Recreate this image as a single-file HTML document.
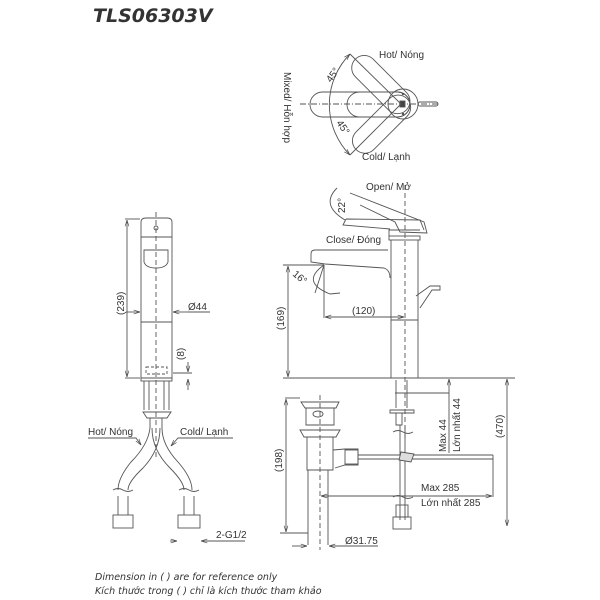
<!DOCTYPE html>
<html><head><meta charset="utf-8"><style>
body{margin:0;background:#fff}
svg{display:block}
text{font-family:"Liberation Sans","DejaVu Sans",sans-serif;fill:#333}
</style></head><body>
<svg width="600" height="600" viewBox="0 0 600 600" xmlns="http://www.w3.org/2000/svg">
<defs>
<marker id="a" viewBox="0 0 10 10" refX="10" refY="5" markerWidth="7" markerHeight="7" orient="auto-start-reverse"><path d="M0,2 L10,5 L0,8" fill="none" stroke="#444" stroke-width="1"/></marker>
</defs>
<text x="93" y="22" font-size="19" font-weight="bold" font-style="italic" style="font-family:'DejaVu Sans',sans-serif" fill="#222">TLS06303V</text>

<g fill="none" stroke="#555" stroke-width="0.9">
<!-- TOP VIEW -->
<line x1="300" y1="104" x2="440" y2="104" stroke-dasharray="6,2,1,2"/>
<rect x="310" y="92" width="100" height="25" rx="12.5"/>
<rect x="347" y="92" width="63" height="25" rx="12.5"/>
<g transform="rotate(45 401 104)"><rect x="337" y="92" width="72" height="25" rx="12.5"/></g>
<g transform="rotate(-45 401 104)"><rect x="337" y="92" width="72" height="25" rx="12.5"/></g>
<circle cx="403" cy="104" r="15"/>
<rect x="400" y="101" width="5" height="6" fill="#444"/>
<circle cx="403" cy="94" r="0.8" fill="#444"/><circle cx="403" cy="114" r="0.8" fill="#444"/>
<rect x="418" y="102" width="20" height="4" rx="2"/>
<path d="M350,54 A72,72 0 0 0 350,155" marker-start="url(#a)" marker-end="url(#a)"/>
<line x1="350" y1="54" x2="401" y2="104"/><line x1="350" y1="155" x2="401" y2="104"/>

<!-- SIDE VIEW -->
<line x1="405" y1="185" x2="405" y2="440" stroke-dasharray="5,3"/>
<path d="M391,240 L391,378 L418,378 L418,240"/>
<line x1="391" y1="320" x2="418" y2="320"/>
<rect x="389" y="236" width="31" height="4"/>
<path d="M389,236 L389,230 L420,230"/>
<path d="M350,193 L424,222 L427,233 L400,232 L395,222 L360,205"/>
<path d="M346,219 L420,220 L424,230 M346,219 L343,225 L390,229"/>
<path d="M315,250 L388,250 M311,254 Q311,250 315,250 M311,254 L311,262 L325,264 L384,268 Q390,270 390,278"/>
<path d="M416,296 L430,286 L440,286 L440,290 L432,290 L420,308"/>
<path d="M337,188 Q320,205 345,220" /><path d="M324,265 Q300,282 330,294 L340,293"/>
<line x1="324" y1="265" x2="315" y2="293"/>
<line x1="324" y1="265" x2="324" y2="318"/>
<line x1="283" y1="378" x2="515" y2="378"/>
<line x1="283" y1="265" x2="324" y2="265"/>
<line x1="288" y1="266" x2="288" y2="377" marker-start="url(#a)" marker-end="url(#a)"/>
<line x1="325" y1="317" x2="404" y2="317" marker-start="url(#a)" marker-end="url(#a)"/>
<line x1="507" y1="379" x2="507" y2="526" marker-start="url(#a)" marker-end="url(#a)"/>
<line x1="449" y1="393" x2="449" y2="379" marker-end="url(#a)"/>
<line x1="449" y1="393" x2="449" y2="453" />
<path d="M396,380 L396,408 M407,380 L407,408 M390,410 L414,410 L414,413 L390,413 Z M396,413 L396,425 L402,425 L402,413"/>
<path d="M400,425 L400,520 M405,425 L405,520"/>
<path d="M393,432 q5,-3 10,0 t10,0 M393,497 q5,-3 10,0 t10,0"/>
<rect x="396" y="505" width="12" height="12"/>
<rect x="393" y="517" width="18" height="12"/>
<line x1="395" y1="393" x2="449" y2="393"/>
<!-- drain -->
<line x1="320" y1="395" x2="320" y2="550" stroke-dasharray="5,3"/>
<path d="M301,402 L339,402 L336,408 L305,408 Z M306,408 L306,425 L334,425 L334,408"/>
<ellipse cx="318" cy="414" rx="5" ry="3"/>
<path d="M300,430 L340,430 L336,437 L304,437 Z M307,437 L307,470 L333,470 L333,437"/>
<path d="M308,470 L308,545 M328,470 L328,545"/>
<path d="M333,450 L345,449 L358,449 L358,465 L345,465 L335,468"/>
<rect x="345" y="450" width="13" height="14"/>
<path d="M358,455 L493,455 M358,459 L493,459 M493,455 L493,459"/>
<path d="M401,452 L414,454 L411,462 L399,460 Z" fill="#ddd"/>
<line x1="285" y1="398" x2="300" y2="398"/><line x1="280" y1="533" x2="308" y2="533"/>
<line x1="286" y1="399" x2="286" y2="532" marker-start="url(#a)" marker-end="url(#a)"/>
<line x1="321" y1="496" x2="492" y2="496" marker-start="url(#a)" marker-end="url(#a)"/>
<line x1="493" y1="459" x2="493" y2="497"/>
<line x1="292" y1="546" x2="307" y2="546" marker-end="url(#a)"/>
<line x1="345" y1="546" x2="329" y2="546" marker-end="url(#a)"/>
<line x1="329" y1="546" x2="378" y2="546"/>

<!-- FRONT VIEW -->
<line x1="156" y1="212" x2="156" y2="460" stroke-dasharray="5,3"/>
<path d="M141,222 Q141,218 146,218 L167,218 Q172,218 172,222 L172,378 L141,378 Z"/>
<line x1="141" y1="237" x2="172" y2="237"/>
<circle cx="156" cy="228" r="2"/>
<path d="M144,250 L168,250 L168,262 Q166,268 156,268 Q146,268 144,262 Z"/>
<line x1="141" y1="322" x2="172" y2="322"/>
<rect x="146" y="367" width="21" height="7" stroke-dasharray="3,2"/>
<rect x="141" y="378" width="31" height="3"/>
<path d="M144,381 L144,410 M149,381 L149,410 M164,381 L164,410 M169,381 L169,410"/>
<path d="M143,412 L171,412 L167,418 L147,418 Z"/>
<path d="M150,418 L150,428 M162,418 L162,428"/>
<path d="M150,428 Q148,445 131,462 Q118,478 118,490 M160,428 Q160,450 143,468 Q128,482 128,490"/>
<path d="M162,428 Q162,445 178,462 Q192,478 192,490 M152,428 Q152,450 170,468 Q184,482 184,490"/>
<path d="M113,490 q5,-3 10,0 t10,0 M179,490 q5,-3 10,0 t10,0"/>
<path d="M118,496 L118,515 M128,496 L128,515 M184,496 L184,515 M194,496 L194,515"/>
<rect x="113" y="515" width="20" height="13"/><rect x="178" y="515" width="22" height="13"/>
<line x1="125" y1="219" x2="140" y2="219"/><line x1="125" y1="378" x2="140" y2="378"/>
<line x1="127" y1="220" x2="127" y2="377" marker-start="url(#a)" marker-end="url(#a)"/>
<line x1="126" y1="312" x2="140" y2="312" marker-end="url(#a)"/>
<line x1="188" y1="312" x2="173" y2="312" marker-end="url(#a)"/>
<line x1="188" y1="312" x2="210" y2="312"/>
<line x1="173" y1="373" x2="192" y2="373"/>
<line x1="188" y1="362" x2="188" y2="372" marker-end="url(#a)"/>
<line x1="188" y1="390" x2="188" y2="379" marker-end="url(#a)"/>
<path d="M88,438 L136,438 L141,445" marker-end="url(#a)"/>
<path d="M233,438 L178,438 L171,446" marker-end="url(#a)"/>
<line x1="170" y1="541" x2="177" y2="541" marker-end="url(#a)"/>
<line x1="210" y1="541" x2="201" y2="541" marker-end="url(#a)"/>
<line x1="201" y1="541" x2="245" y2="541"/>
</g>

<g font-size="10">
<text x="379" y="58">Hot/ Nóng</text>
<text x="362" y="160">Cold/ Lạnh</text>
<text transform="translate(284,72) rotate(90)">Mixed/ Hỗn hợp</text>
<text transform="translate(331,83) rotate(-55)">45°</text>
<text transform="translate(336,123) rotate(55)">45°</text>
<text x="366" y="190">Open/ Mở</text>
<text transform="translate(345,213) rotate(-90)">22°</text>
<text x="326" y="243">Close/ Đóng</text>
<text transform="translate(292,275) rotate(40)">16°</text>
<text x="352" y="314">(120)</text>
<text transform="translate(284,330) rotate(-90)">(169)</text>
<text transform="translate(503,438) rotate(-90)">(470)</text>
<text transform="translate(446,452) rotate(-90)">Max 44</text>
<text transform="translate(460,452) rotate(-90)">Lớn nhất 44</text>
<text x="421" y="491">Max 285</text>
<text x="421" y="506">Lớn nhất 285</text>
<text transform="translate(282,472) rotate(-90)">(198)</text>
<text x="345" y="544">Ø31.75</text>
<text transform="translate(124,315) rotate(-90)">(239)</text>
<text x="188" y="310">Ø44</text>
<text transform="translate(184,360) rotate(-90)">(8)</text>
<text x="88" y="435">Hot/ Nóng</text>
<text x="180" y="435">Cold/ Lạnh</text>
<text x="216" y="538">2-G1/2</text>
</g>
<g font-style="italic">
<text x="95" y="580" style="font-family:'DejaVu Sans',sans-serif" font-size="9.5">Dimension in ( ) are for reference only</text>
<text x="95" y="594" style="font-family:'DejaVu Sans',sans-serif" font-size="9.5">Kích thước trong ( ) chỉ là kích thước tham khảo</text>
</g>
</svg>
</body></html>
